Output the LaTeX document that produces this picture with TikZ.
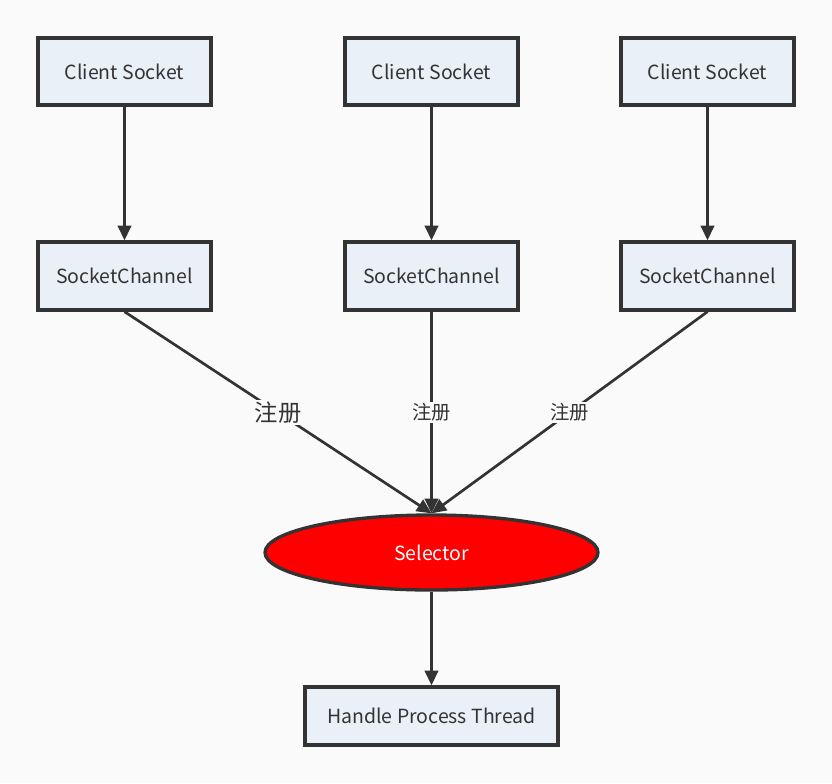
\documentclass[tikz,border=0pt]{standalone}
\usepackage{fontspec}
\setmainfont{Noto Sans CJK SC}
\usepackage{tikz}
\usetikzlibrary{arrows.meta,shapes.geometric}

\definecolor{boxfill}{HTML}{EAF0F8}
\definecolor{linecol}{HTML}{333333}
\definecolor{bgcol}{HTML}{FAFAFA}

\tikzset{
  box/.style={draw=linecol, line width=2.5pt, fill=boxfill, text=linecol,
    minimum width=129.75pt, minimum height=50.25pt, inner sep=0pt,
    font=\fontsize{14.6}{16}\selectfont},
  arr/.style={draw=linecol, line width=2pt, -{Triangle[length=11pt,width=10pt]}},
  lbl/.style={fill=bgcol, text=linecol, inner sep=1pt, font=\fontsize{14.5}{16}\selectfont}
}

\begin{document}
\begin{tikzpicture}[x=0.75pt,y=-0.75pt]
\fill[bgcol] (0,0) rectangle (832,783);
\useasboundingbox (0,0) rectangle (832,783);

\node[box] (c1) at (124.5,71.5) {Client Socket};
\node[box] (c2) at (431.5,71.5) {Client Socket};
\node[box] (c3) at (707.5,71.5) {Client Socket};

\node[box,minimum height=51pt] (s1) at (124.5,276) {SocketChannel};
\node[box,minimum height=51pt] (s2) at (431.5,276) {SocketChannel};
\node[box,minimum height=51pt] (s3) at (707.5,276) {SocketChannel};

\node[ellipse, draw=linecol, line width=2.5pt, fill=red, text=white,
  minimum width=249.75pt, minimum height=56.25pt, inner sep=0pt,
  font=\fontsize{14.6}{16}\selectfont] (sel) at (431.5,552.5) {Selector};

\node[box, minimum width=189.75pt, minimum height=43.5pt] (ht) at (431.5,716) {Handle Process Thread};

%-------------------------------------
\draw[arr] (c1) -- (s1);
\draw[arr] (c2) -- (s2);
\draw[arr] (c3) -- (s3);

\draw[arr] (s1.south) -- (sel.north) node[lbl, pos=0.5, font=\fontsize{17.5}{19}\selectfont] {注册};
\draw[arr] (s2.south) -- (sel.north) node[lbl, pos=0.5] {注册};
\draw[arr] (s3.south) -- (sel.north) node[lbl, pos=0.5] {注册};

\draw[arr] (sel) -- (ht);
\end{tikzpicture}
\end{document}
